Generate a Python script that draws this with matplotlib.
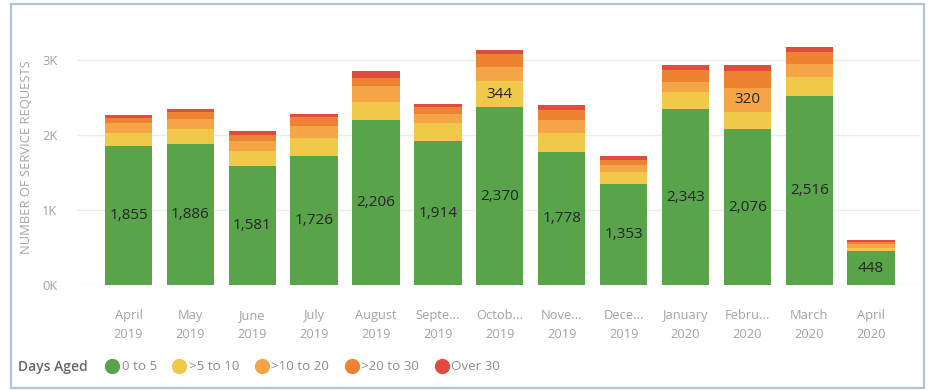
import matplotlib
matplotlib.use("Agg")
import matplotlib.pyplot as plt
from matplotlib.lines import Line2D
from matplotlib.patches import Rectangle
import numpy as np

months = ["April\n2019", "May\n2019", "June\n2019", "July\n2019", "August\n2019",
          "Septe...\n2019", "Octob...\n2019", "Nove...\n2019", "Dece...\n2019",
          "January\n2020", "Febru...\n2020", "March\n2020", "April\n2020"]
series_names = ["0 to 5", ">5 to 10", ">10 to 20", ">20 to 30", "Over 30"]
d0_5 = [1855, 1886, 1581, 1726, 2206, 1914, 2370, 1778, 1353, 2343, 2076, 2516, 448]
d5_10 = [168, 195, 205, 230, 230, 240, 344, 245, 155, 235, 231, 260, 45]
d10_20 = [137, 130, 130, 170, 220, 130, 190, 178, 89, 133, 320, 170, 50]
d20_30 = [71, 90, 90, 110, 110, 85, 170, 133, 67, 160, 230, 160, 30]
over30 = [36, 40, 45, 50, 85, 45, 65, 70, 53, 62, 70, 70, 25]
yticks = [0, 1000, 2000, 3000]
ytick_labels = ["0K", "1K", "2K", "3K"]
# labels shown on segments: (series index, bar index)
shown = [(0, i) for i in range(len(months))] + [(1, 6), (2, 10)]

colors = ["#59A34B", "#F0C84A", "#F5A446", "#EE8233", "#DD4C3D"]
series = [d0_5, d5_10, d10_20, d20_30, over30]

fig = plt.figure(figsize=(9.32, 3.90), dpi=100)
ax = fig.add_axes([77 / 932, 105 / 390, 843 / 932, 245 / 390])

x = np.arange(len(months))
bottom = np.zeros(len(months))
bars_all = []
for vals, c in zip(series, colors):
    v = np.array(vals, dtype=float)
    b = ax.bar(x, v, bottom=bottom, width=0.765, color=c, zorder=3, linewidth=0)
    bars_all.append((b, bottom.copy(), v))
    bottom += v

for si, bi in shown:
    b, bot, v = bars_all[si]
    ax.text(x[bi], bot[bi] + v[bi] / 2, f"{int(v[bi]):,}", ha="center", va="center",
            fontsize=11, color="#252525", zorder=4, family="Open Sans")

ax.set_xlim(-0.832, 12.79)
ax.set_ylim(0, 3267)
ax.set_yticks(yticks)
ax.set_yticklabels(ytick_labels)
ax.set_xticks(x)
ax.set_xticklabels(months, linespacing=1.6)
ax.grid(axis="y", color="#ececec", linewidth=1, zorder=0)
for s in ax.spines.values():
    s.set_visible(False)
ax.tick_params(axis="both", length=0, colors="#a3a3a3", labelsize=9.3)
ax.tick_params(axis="x", pad=17)
ax.tick_params(axis="y", pad=14)
for t in ax.get_xticklabels() + ax.get_yticklabels():
    t.set_family("Open Sans")

fig.text(27 / 932, 1 - 157 / 390, "NUMBER OF SERVICE REQUESTS", rotation=90,
         ha="center", va="center", fontsize=9.4, color="#a6a6a6", family="Open Sans")

# legend
fig.text(18 / 932, 1 - 367 / 390, "Days Aged", ha="left", va="center",
         fontsize=10, color="#666666", family="Open Sans", fontweight="semibold")
handles = [Line2D([], [], marker="o", linestyle="none", markersize=10,
                  markerfacecolor=c, markeredgecolor=c) for c in colors]
leg = fig.legend(handles, series_names, loc="center left",
                 bbox_to_anchor=(103 / 932, 1 - 367 / 390), ncol=5, frameon=False,
                 handletextpad=0.0, columnspacing=1.0, handlelength=1.4,
                 prop={"family": "Open Sans", "size": 9.6}, borderpad=0, borderaxespad=0)
for t in leg.get_texts():
    t.set_color("#8d8d8d")

# outer border
fig.patches.append(Rectangle((11 / 932, 2 / 390), 913 / 932, 384 / 390,
                             transform=fig.transFigure, fill=False,
                             edgecolor="#b3c3d6", linewidth=1.6))

fig.savefig("out.png", dpi=100, facecolor="white")
